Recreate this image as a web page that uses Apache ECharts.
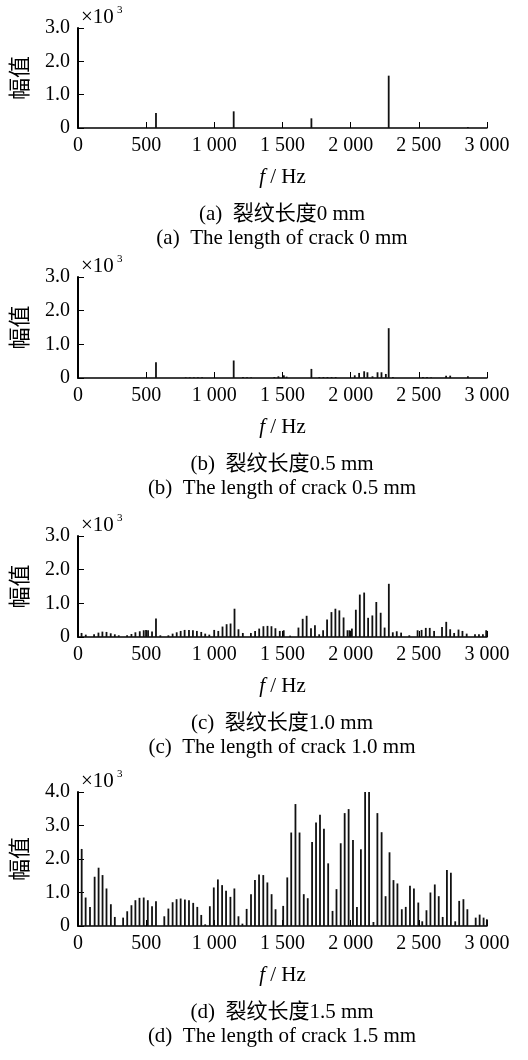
<!DOCTYPE html>
<html>
<head>
<meta charset="utf-8">
<script src="https://cdn.jsdelivr.net/npm/echarts@6/dist/echarts.min.js"></script>
<style>
  html, body { margin: 0; padding: 0; background: #fff; }
  #main { width: 528px; height: 1060px; }
</style>
</head>
<body>
<div id="main"></div>
<script>
// spectrum peaks, amplitude in units of 10^3
const freqA = [572, 1142, 1712, 2279, 2860];
const ampA = [0.45, 0.5, 0.29, 1.57, 0.03];

const freqB = [572, 790, 820, 850, 880, 910, 1142, 1210, 1240, 1270, 1440, 1470, 1510, 1530, 1712,
  1770, 1800, 1830, 1860, 1890, 2030, 2062, 2099, 2123, 2160, 2197, 2226, 2258, 2279, 2310,
  2530, 2560, 2590, 2700, 2730, 2860];
const ampB = [0.47, 0.02, 0.02, 0.02, 0.02, 0.02, 0.52, 0.03, 0.02, 0.02, 0.03, 0.05, 0.08, 0.04, 0.27,
  0.03, 0.03, 0.03, 0.03, 0.03, 0.08, 0.15, 0.2, 0.17, 0.05, 0.17, 0.17, 0.12, 1.48, 0.03,
  0.03, 0.03, 0.02, 0.07, 0.07, 0.05];

const freqC = [26, 57, 118, 150, 179, 209, 240, 270, 299, 360, 392, 421, 453, 482, 499, 514, 543, 572, 604,
  663, 694, 724, 753, 782, 814, 843, 872, 904, 933, 963, 999, 1029, 1060, 1090, 1119, 1148, 1177, 1209,
  1268, 1299, 1329, 1360, 1390, 1419, 1448, 1480, 1509, 1556, 1617, 1648, 1677, 1709, 1738, 1769, 1798,
  1827, 1859, 1888, 1917, 1948, 1977, 1992, 2009, 2038, 2067, 2099, 2128, 2159, 2188, 2220, 2249, 2280,
  2309, 2338, 2370, 2430, 2491, 2520, 2551, 2580, 2612, 2670, 2701, 2730, 2759, 2791, 2820, 2851, 2912,
  2941, 2970, 2994];
const ampC = [0.12, 0.07, 0.08, 0.13, 0.16, 0.15, 0.11, 0.08, 0.05, 0.05, 0.09, 0.14, 0.17, 0.2, 0.21, 0.2, 0.16, 0.55, 0.05,
  0.05, 0.1, 0.14, 0.18, 0.21, 0.21, 0.2, 0.18, 0.15, 0.1, 0.07, 0.21, 0.18, 0.31, 0.38, 0.4, 0.84, 0.23, 0.12,
  0.12, 0.18, 0.25, 0.32, 0.33, 0.32, 0.26, 0.18, 0.2, 0.04, 0.28, 0.54, 0.63, 0.26, 0.35, 0.08, 0.2,
  0.52, 0.74, 0.84, 0.79, 0.58, 0.2, 0.2, 0.25, 0.81, 1.26, 1.32, 0.57, 0.64, 1.04, 0.72, 0.28, 1.58,
  0.14, 0.17, 0.13, 0.05, 0.2, 0.21, 0.27, 0.27, 0.18, 0.3, 0.45, 0.23, 0.12, 0.22, 0.18, 0.1, 0.08,
  0.08, 0.08, 0.2];

const freqD = [27, 56, 88, 122, 151, 180, 209, 241, 270, 331, 361, 392, 421, 451, 482, 512, 543, 572,
  633, 663, 694, 723, 753, 784, 814, 845, 875, 904, 933, 967, 996, 1026, 1057, 1086, 1118, 1147, 1177,
  1206, 1237, 1269, 1298, 1328, 1359, 1389, 1420, 1449, 1505, 1535, 1564, 1595, 1625, 1656, 1685, 1717,
  1746, 1775, 1804, 1835, 1867, 1896, 1927, 1956, 1985, 2017, 2046, 2075, 2106, 2135, 2167, 2196, 2227,
  2256, 2285, 2314, 2343, 2375, 2404, 2435, 2464, 2496, 2525, 2556, 2585, 2617, 2646, 2675, 2706, 2735,
  2767, 2796, 2827, 2856, 2917, 2946, 2975, 2999];
const ampD = [2.3, 0.85, 0.57, 1.47, 1.74, 1.52, 1.12, 0.65, 0.27, 0.25, 0.44, 0.62, 0.77, 0.84, 0.85, 0.77, 0.59, 0.74,
  0.29, 0.52, 0.71, 0.8, 0.82, 0.79, 0.77, 0.69, 0.57, 0.33, 0.05, 0.59, 1.15, 1.39, 1.22, 1.05, 0.87, 1.12, 0.29,
  0.07, 0.51, 0.95, 1.37, 1.54, 1.52, 1.3, 0.95, 0.5, 0.6, 1.45, 2.79, 3.64, 2.79, 0.95, 0.83, 2.51,
  3.09, 3.32, 2.9, 1.87, 0.45, 1.1, 2.47, 3.37, 3.49, 2.57, 0.57, 2.29, 4.0, 4.0, 0.12, 3.37, 2.8,
  0.89, 2.2, 1.37, 1.27, 0.5, 0.57, 1.2, 1.12, 0.7, 0.14, 0.47, 1.0, 1.24, 0.89, 0.27, 1.67, 1.59,
  0.14, 0.75, 0.8, 0.5, 0.25, 0.34, 0.25, 0.2];

const yMax = [3, 3, 3, 4];
const captionsZh = ["(a)  裂纹长度0 mm", "(b)  裂纹长度0.5 mm", "(c)  裂纹长度1.0 mm", "(d)  裂纹长度1.5 mm"];
const captionsEn = ["(a)  The length of crack 0 mm", "(b)  The length of crack 0.5 mm",
  "(c)  The length of crack 1.0 mm", "(d)  The length of crack 1.5 mm"];

const panels = [[freqA, ampA], [freqB, ampB], [freqC, ampC], [freqD, ampD]];
const grids = [
  { left: 78, top: 28, width: 409, height: 100 },
  { left: 78, top: 277, width: 409, height: 101 },
  { left: 78, top: 536, width: 409, height: 101 },
  { left: 78, top: 792, width: 409, height: 134 }
];

const serif = "'Liberation Serif', 'Noto Sans CJK SC', serif";
const chart = echarts.init(document.getElementById("main"));

const graphics = [];
grids.forEach((g, i) => {
  const base = g.top + g.height;
  graphics.push({ type: "text", x: 81, y: g.top - 11,
    style: { text: "×10", font: "21px " + serif, fill: "#000", textVerticalAlign: "middle" } });
  graphics.push({ type: "text", x: 117, y: g.top - 18,
    style: { text: "3", font: "11px " + serif, fill: "#000", textVerticalAlign: "middle" } });
  graphics.push({ type: "text", x: 282, y: base + 86,
    style: { text: captionsZh[i], font: "21px " + serif, fill: "#000", textAlign: "center", textVerticalAlign: "middle" } });
  graphics.push({ type: "text", x: 282, y: base + 110,
    style: { text: captionsEn[i], font: "21px " + serif, fill: "#000", textAlign: "center", textVerticalAlign: "middle" } });
});

const option = {
  animation: false,
  grid: grids,
  xAxis: grids.map((g, i) => ({
    type: "value", gridIndex: i, min: 0, max: 3000, interval: 500,
    name: "{i|f} / Hz", nameLocation: "middle", nameGap: 39,
    nameTextStyle: {
      fontSize: 21, fontFamily: serif, color: "#000",
      rich: { i: { fontStyle: "italic", fontSize: 21, fontFamily: serif, color: "#000" } }
    },
    splitLine: { show: false },
    axisLine: { lineStyle: { color: "#000", width: 1.5 } },
    axisTick: { inside: true, length: 6, lineStyle: { color: "#000", width: 1 } },
    axisLabel: {
      fontSize: 20, fontFamily: serif, color: "#000", margin: 8,
      showMinLabel: true, showMaxLabel: true,
      formatter: v => v >= 1000 ? Math.floor(v / 1000) + " " + String(v % 1000).padStart(3, "0") : String(v)
    }
  })),
  yAxis: grids.map((g, i) => ({
    type: "value", gridIndex: i, min: 0, max: yMax[i], interval: 1,
    name: "幅值", nameLocation: "middle", nameRotate: 90, nameGap: 48,
    nameTextStyle: { fontSize: 22, fontFamily: "'Noto Sans CJK SC', serif", color: "#000" },
    splitLine: { show: false },
    axisLine: { show: true, lineStyle: { color: "#000", width: 2 } },
    axisTick: { inside: true, length: 6, lineStyle: { color: "#000", width: 1 } },
    axisLabel: {
      fontSize: 20, fontFamily: serif, color: "#000", margin: 8,
      formatter: v => v === 0 ? "0" : v.toFixed(1)
    }
  })),
  series: panels.map(([f, a], i) => ({
    type: "bar", xAxisIndex: i, yAxisIndex: i, barWidth: 1.8,
    itemStyle: { color: "#111" },
    data: f.map((x, k) => [x, a[k]])
  })),
  graphic: graphics
};

chart.setOption(option);
</script>
</body>
</html>
